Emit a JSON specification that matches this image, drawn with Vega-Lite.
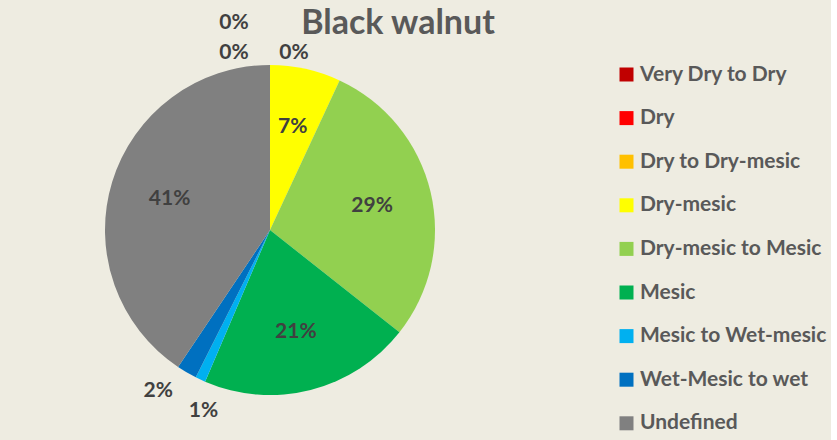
{
  "$schema": "https://vega.github.io/schema/vega-lite/v6.json",
  "autosize": {"type": "pad"},
  "width": 540,
  "height": 460,
  "padding": 0,
  "background": "#EEECE1",
  "title": {
    "text": "Black walnut",
    "font": "Lato",
    "fontSize": 34,
    "fontWeight": "bold",
    "color": "#595959",
    "anchor": "middle",
    "frame": "group",
    "dx": 128,
    "offset": -41
  },
  "config": {
    "view": {"stroke": null},
    "text": {"font": "Lato"}
  },
  "data": {
    "values": [
      {"cat": "Very Dry to Dry", "value": 0, "ord": 1},
      {"cat": "Dry", "value": 0, "ord": 2},
      {"cat": "Dry to Dry-mesic", "value": 0, "ord": 3},
      {"cat": "Dry-mesic", "value": 0.07, "ord": 4},
      {"cat": "Dry-mesic to Mesic", "value": 0.29, "ord": 5},
      {"cat": "Mesic", "value": 0.21, "ord": 6},
      {"cat": "Mesic to Wet-mesic", "value": 0.01, "ord": 7},
      {"cat": "Wet-Mesic to wet", "value": 0.02, "ord": 8},
      {"cat": "Undefined", "value": 0.41, "ord": 9}
    ]
  },
  "transform": [
    {"stack": "value", "groupby": [], "sort": [{"field": "ord", "order": "ascending"}], "as": ["v0", "v1"]},
    {"calculate": "(datum.v0 + datum.v1) / 2", "as": "mid"}
  ],
  "layer": [
    {
      "mark": {"type": "arc", "outerRadius": 165, "strokeWidth": 0},
      "encoding": {
        "theta": {"field": "v0", "type": "quantitative", "scale": {"domain": [0, 1.01]}},
        "theta2": {"field": "v1"},
        "color": {
          "field": "cat",
          "type": "nominal",
          "scale": {
            "domain": ["Very Dry to Dry", "Dry", "Dry to Dry-mesic", "Dry-mesic", "Dry-mesic to Mesic", "Mesic", "Mesic to Wet-mesic", "Wet-Mesic to wet", "Undefined"],
            "range": ["#C00000", "#FF0000", "#FFC000", "#FFFF00", "#92D050", "#00B050", "#00B0F0", "#0070C0", "#808080"]
          },
          "legend": {
            "title": null,
            "orient": "none",
            "legendX": 612,
            "legendY": 60,
            "symbolType": "square",
            "symbolSize": 196,
            "symbolStrokeWidth": 0,
            "labelFont": "Lato",
            "labelFontSize": 21,
            "labelFontWeight": "bold",
            "labelColor": "#595959",
            "labelLimit": 300,
            "rowPadding": 21.6,
            "labelOffset": 3,
            "padding": 4
          }
        }
      }
    },
    {
      "transform": [{"filter": "datum.value >= 0.05"}],
      "mark": {"type": "text", "radius": 105, "fontSize": 21, "fontWeight": "bold", "color": "#404040"},
      "encoding": {
        "theta": {"field": "mid", "type": "quantitative"},
        "text": {"field": "value", "type": "quantitative", "format": ".0%"}
      }
    },
    {
      "transform": [{"filter": "datum.cat == 'Wet-Mesic to wet'"}],
      "mark": {"type": "text", "radius": 186, "fontSize": 21, "fontWeight": "bold", "color": "#404040", "dx": -18, "dy": 0},
      "encoding": {
        "theta": {"field": "mid", "type": "quantitative"},
        "text": {"field": "value", "type": "quantitative", "format": ".0%"}
      }
    },
    {
      "transform": [{"filter": "datum.cat == 'Mesic to Wet-mesic'"}],
      "mark": {"type": "text", "radius": 186, "fontSize": 21, "fontWeight": "bold", "color": "#404040", "dx": 12, "dy": 12},
      "encoding": {
        "theta": {"field": "mid", "type": "quantitative"},
        "text": {"field": "value", "type": "quantitative", "format": ".0%"}
      }
    },
    {
      "transform": [{"filter": "datum.cat == 'Dry to Dry-mesic'"}],
      "mark": {"type": "text", "radius": 165, "fontSize": 21, "fontWeight": "bold", "color": "#404040", "dx": 24, "dy": -12},
      "encoding": {
        "theta": {"field": "mid", "type": "quantitative"},
        "text": {"field": "value", "type": "quantitative", "format": ".0%"}
      }
    },
    {
      "transform": [{"filter": "datum.cat == 'Dry'"}],
      "mark": {"type": "text", "radius": 165, "fontSize": 21, "fontWeight": "bold", "color": "#404040", "dx": -36, "dy": -12},
      "encoding": {
        "theta": {"field": "mid", "type": "quantitative"},
        "text": {"field": "value", "type": "quantitative", "format": ".0%"}
      }
    },
    {
      "transform": [{"filter": "datum.cat == 'Very Dry to Dry'"}],
      "mark": {"type": "text", "radius": 165, "fontSize": 21, "fontWeight": "bold", "color": "#404040", "dx": -36, "dy": -42},
      "encoding": {
        "theta": {"field": "mid", "type": "quantitative"},
        "text": {"field": "value", "type": "quantitative", "format": ".0%"}
      }
    }
  ]
}
